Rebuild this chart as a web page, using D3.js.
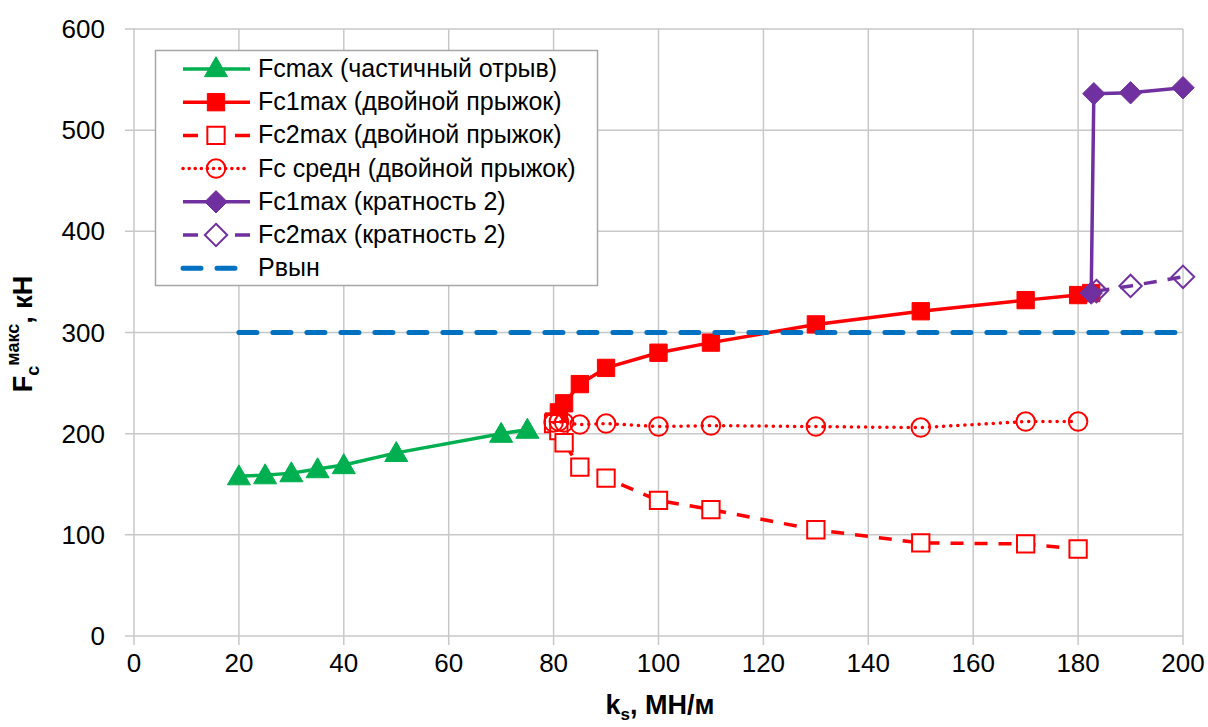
<!DOCTYPE html>
<html lang="en">
<head>
<meta charset="UTF-8">
<title>Fc max vs ks</title>
<script src="https://d3js.org/d3.v7.min.js"></script>
<style>
    body { margin: 0; background: #fff; }
    svg { display: block; font-family: "Liberation Sans", Arial, sans-serif; }
    .grid line { stroke: #c8c8c8; stroke-width: 1.5; }
    .tick-label { font-size: 26px; fill: #000; }
    .axis-title { font-size: 27px; font-weight: bold; fill: #000; }
    .legend text { font-size: 25px; fill: #000; }
</style>
</head>
<body>
<svg id="chart" width="1208" height="727"></svg>
<script>
// ---- data ----
const xTicks = [0, 20, 40, 60, 80, 100, 120, 140, 160, 180, 200];
const yTicks = [0, 100, 200, 300, 400, 500, 600];

// Fcmax (частичный отрыв)
const fcmaxX = [20, 25, 30, 35, 40, 50, 70, 75];
const fcmaxY = [158, 159, 161, 165, 169, 181, 200, 204];

// Fc1max (двойной прыжок)
const fc1X = [80, 81, 82, 85, 90, 100, 110, 130, 150, 170, 180, 182.5];
const fc1Y = [212, 221, 230, 249, 265, 280, 290, 308, 321, 332, 337, 339];

// Fc2max (двойной прыжок)
const fc2X = [80, 81, 82, 85, 90, 100, 110, 130, 150, 170, 180];
const fc2Y = [210, 203, 191, 167, 156, 134, 125, 105, 92, 91, 86];

// Fc средн (двойной прыжок)
const fcAvgX = [80, 81, 82, 85, 90, 100, 110, 130, 150, 170, 180];
const fcAvgY = [211, 212, 211, 209, 210, 207, 208, 207, 206, 212, 212];

// Fc1max (кратность 2)
const k2maxX = [182.5, 183, 190, 200];
const k2maxY = [339, 536, 537, 542];

// Fc2max (кратность 2)
const k2secX = [183.5, 190, 200];
const k2secY = [341, 346, 355];

// Pвын
const pX = [20, 200];
const pY = [300, 300];

const zip = (xs, ys) => xs.map((x, i) => ({ x: x, y: ys[i] }));

const series = [
    { name: "Fcmax (частичный отрыв)", data: zip(fcmaxX, fcmaxY), color: "#00b050", width: 3.5, dash: null, marker: "triangle", fill: "#00b050" },
    { name: "Fc1max (двойной прыжок)", data: zip(fc1X, fc1Y), color: "#ff0000", width: 3.5, dash: null, marker: "square", fill: "#ff0000" },
    { name: "Fc2max (двойной прыжок)", data: zip(fc2X, fc2Y), color: "#ff0000", width: 3.5, dash: "13,11", marker: "square", fill: "#fff" },
    { name: "Fc средн (двойной прыжок)", data: zip(fcAvgX, fcAvgY), color: "#ff0000", width: 3.5, dash: "0.1,7", marker: "circle", fill: "none" },
    { name: "Fc1max (кратность 2)", data: zip(k2maxX, k2maxY), color: "#7030a0", width: 3.5, dash: null, marker: "diamond", fill: "#7030a0" },
    { name: "Fc2max (кратность 2)", data: zip(k2secX, k2secY), color: "#7030a0", width: 3.5, dash: "13,11", marker: "diamond", fill: "none" },
    { name: "Pвын", data: zip(pX, pY), color: "#0070c0", width: 5, dash: "18,16", marker: null, fill: null }
];

const svg = d3.select("#chart");
const x = d3.scaleLinear().domain([0, 200]).range([134, 1183]);
const y = d3.scaleLinear().domain([0, 600]).range([636, 29]);

// gridlines
const grid = svg.append("g").attr("class", "grid");
grid.selectAll(".gx").data(xTicks).enter().append("line")
    .attr("x1", d => x(d)).attr("x2", d => x(d))
    .attr("y1", y(600)).attr("y2", y(0) + 9);
grid.selectAll(".gy").data(yTicks).enter().append("line")
    .attr("x1", x(0) - 9).attr("x2", x(200))
    .attr("y1", d => y(d)).attr("y2", d => y(d));

// tick labels
svg.selectAll(".xl").data(xTicks).enter().append("text")
    .attr("class", "tick-label")
    .attr("x", d => x(d)).attr("y", 672)
    .attr("text-anchor", "middle")
    .text(d => d);
svg.selectAll(".yl").data(yTicks).enter().append("text")
    .attr("class", "tick-label")
    .attr("x", 105).attr("y", d => y(d) + 9)
    .attr("text-anchor", "end")
    .text(d => d);

// axis titles
const xt = svg.append("text").attr("class", "axis-title")
    .attr("x", 660).attr("y", 714).attr("text-anchor", "middle");
xt.append("tspan").text("k");
xt.append("tspan").attr("dy", 6).attr("font-size", 17).text("s");
xt.append("tspan").attr("dy", -6).text(", МН/м");

const yt = svg.append("text").attr("class", "axis-title")
    .attr("transform", "translate(32," + 334 + ") rotate(-90)")
    .attr("text-anchor", "middle");
yt.append("tspan").text("F");
yt.append("tspan").attr("dy", 7).attr("font-size", 18).text("c");
yt.append("tspan").attr("dy", -20).attr("font-size", 18).text("макс");
yt.append("tspan").attr("dy", 13).text(", кН");

// marker drawing
const markerSize = { triangle: 230, square: 300, circle: 270, diamond: 320 };
const markerType = { triangle: d3.symbolTriangle, square: d3.symbolSquare, circle: d3.symbolCircle, diamond: d3.symbolDiamond2 };

function drawMarker(sel, s) {
    sel.attr("d", d3.symbol().type(markerType[s.marker]).size(markerSize[s.marker]))
        .attr("fill", s.fill)
        .attr("stroke", s.color)
        .attr("stroke-width", s.fill === "none" || s.fill === "#fff" ? 2 : 1);
}

const line = d3.line().x(d => x(d.x)).y(d => y(d.y));

series.forEach(s => {
    const g = svg.append("g");
    g.append("path").datum(s.data)
        .attr("d", line)
        .attr("fill", "none")
        .attr("stroke", s.color)
        .attr("stroke-width", s.width)
        .attr("stroke-dasharray", s.dash)
        .attr("stroke-linecap", s.dash === "0.1,7" || s.marker === null ? "round" : "butt")
        .attr("stroke-linejoin", "round");
    if (s.marker) {
        g.selectAll("path.m").data(s.data).enter().append("path")
            .attr("class", "m")
            .attr("transform", d => "translate(" + x(d.x) + "," + (y(d.y) + (s.marker === "triangle" ? 2 : 0)) + ")")
            .call(drawMarker, s);
    }
});

// legend
const legend = svg.append("g").attr("class", "legend");
legend.append("rect")
    .attr("x", 155.5).attr("y", 50.5).attr("width", 442).attr("height", 235)
    .attr("fill", "#fff").attr("stroke", "#a6a6a6").attr("stroke-width", 1.5);

series.forEach((s, i) => {
    const cy = 69 + i * 33.2;
    const g = legend.append("g");
    let dash = null;
    if (s.marker === null) dash = "18,16";
    else if (s.dash === "0.1,7") dash = "0.1,6";
    else if (s.dash) dash = "15,37";
    g.append("line")
        .attr("x1", 183).attr("x2", 250).attr("y1", cy).attr("y2", cy)
        .attr("stroke", s.color).attr("stroke-width", s.width)
        .attr("stroke-dasharray", dash)
        .attr("stroke-linecap", s.dash === "0.1,7" || s.marker === null ? "round" : "butt");
    if (s.marker) {
        g.append("path")
            .attr("transform", "translate(216," + (cy + (s.marker === "triangle" ? 1 : 0)) + ")")
            .call(drawMarker, s);
    }
    g.append("text").attr("x", 258).attr("y", cy + 8).text(s.name);
});
</script>
</body>
</html>
